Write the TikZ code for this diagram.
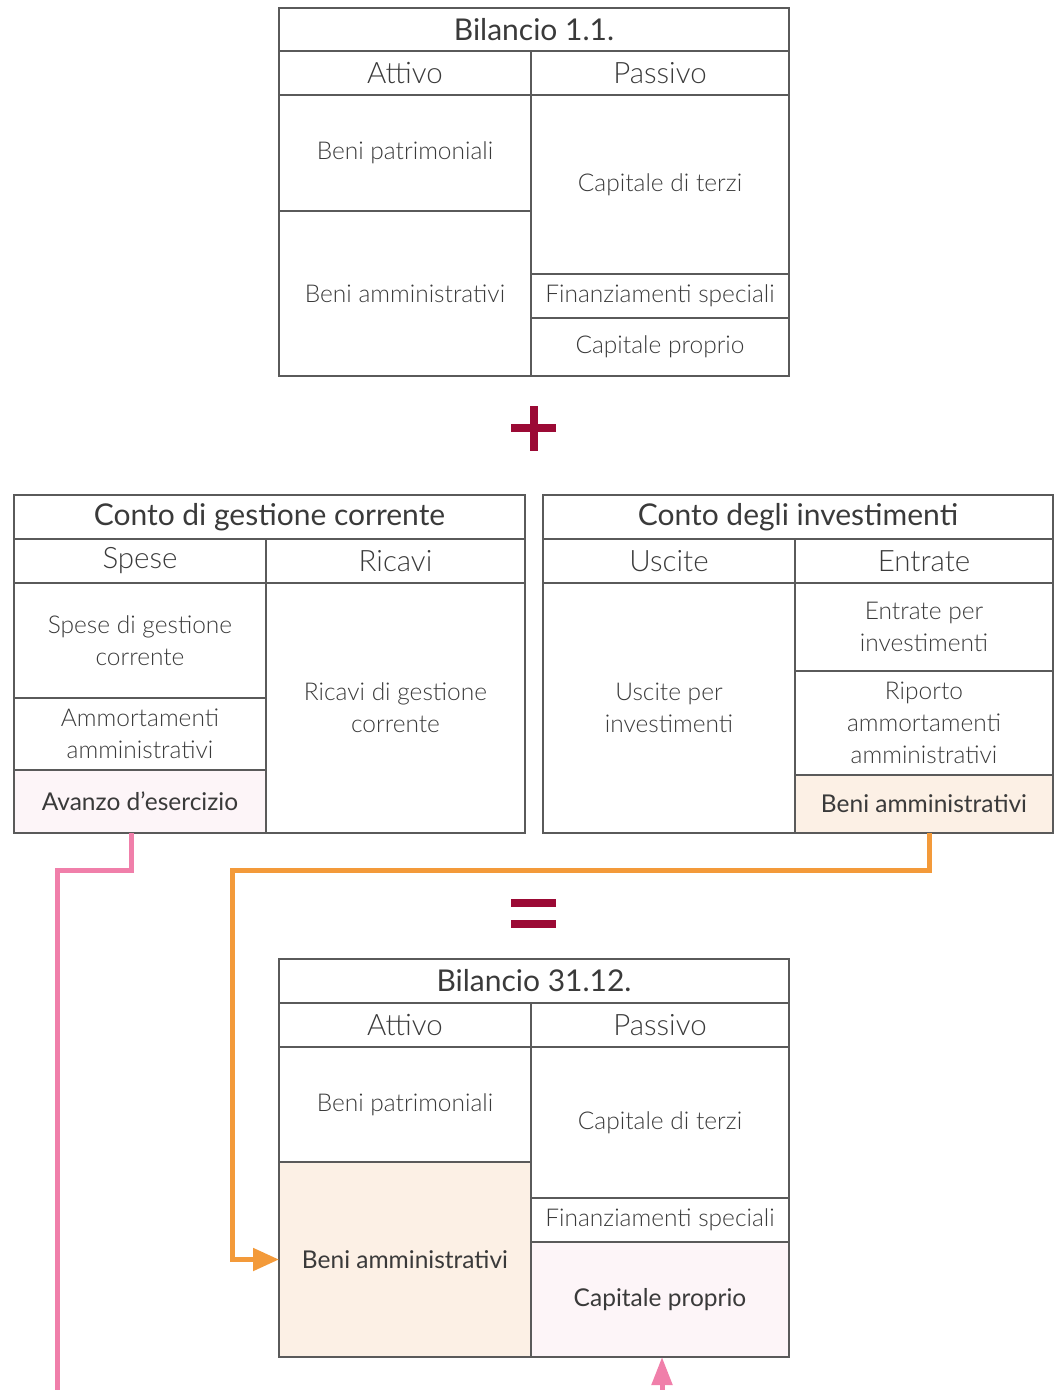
\documentclass[tikz,border=0pt]{standalone}
\usepackage{fontspec}
\setmainfont{Lato}
\newfontfamily\lightfont{Lato Light}
\usetikzlibrary{arrows.meta}
\definecolor{txt}{HTML}{3A3A3A}
\definecolor{frame}{HTML}{5A5A5A}
\definecolor{pinkfill}{HTML}{FDF5F8}
\definecolor{beigefill}{HTML}{FCF0E5}
\definecolor{pinkline}{HTML}{F07FAA}
\definecolor{orangeline}{HTML}{F39A3A}
\definecolor{crimson}{HTML}{9B0A35}
\tikzset{
  cell/.style={draw=frame, line width=1.5pt, inner sep=0pt, outer sep=0pt, align=center, text=txt},
  titletext/.style={font=\fontsize{30}{32}\selectfont},
  headtext/.style={font=\lightfont\fontsize{29.5}{32}\selectfont},
  bodytext/.style={font=\lightfont\fontsize{24.5}{32}\selectfont},
  hightext/.style={font=\fontsize{24.5}{32}\selectfont},
  pinkcell/.style={fill=pinkfill},
  beigecell/.style={fill=beigefill},
  conn/.style={line width=5pt},
}
% \mycell{name}{x1}{y1}{x2}{y2}{style}{text}
\newcommand\mycell[7]{%
  \pgfmathsetmacro\cw{#4-#2}%
  \pgfmathsetmacro\ch{#5-#3}%
  \pgfmathsetmacro\cx{(#2+#4)/2}%
  \pgfmathsetmacro\cy{-(#3+#5)/2}%
  \node[cell, minimum width=\cw pt, minimum height=\ch pt, #6] (#1) at (\cx pt,\cy pt) {#7};%
}
\begin{document}
\begin{tikzpicture}[x=1pt,y=1pt]
\useasboundingbox (0,0) rectangle (1058,-1390);
% ---- Bilancio 1.1.
\mycell{b1t}{279}{8}{789}{51}{titletext}{Bilancio 1.1.}
\mycell{b1a}{279}{51}{531}{95}{headtext}{Attivo}
\mycell{b1p}{531}{51}{789}{95}{headtext}{Passivo}
\mycell{b1bp}{279}{95}{531}{211}{bodytext}{Beni patrimoniali}
\mycell{b1ba}{279}{211}{531}{376}{bodytext}{Beni amministrativi}
\mycell{b1ct}{531}{95}{789}{274}{bodytext}{Capitale di terzi}
\mycell{b1fs}{531}{274}{789}{318}{bodytext}{Finanziamenti speciali}
\mycell{b1cp}{531}{318}{789}{376}{bodytext}{Capitale proprio}
% ---- plus
\fill[crimson] (511,-424) rectangle (556,-432);
\fill[crimson] (530,-406) rectangle (538,-451);
% ---- Conto di gestione corrente
\mycell{cgt}{14}{495}{525}{539}{titletext}{Conto di gestione corrente}
\mycell{cgs}{14}{539}{266}{583}{headtext}{Spese}
\mycell{cgr}{266}{539}{525}{583}{headtext}{Ricavi}
\mycell{cgsg}{14}{583}{266}{698}{bodytext}{Spese di gestione\\corrente}
\mycell{cgam}{14}{698}{266}{770}{bodytext}{Ammortamenti\\amministrativi}
\mycell{cgav}{14}{770}{266}{833}{hightext,pinkcell}{Avanzo d’esercizio}
\mycell{cgrg}{266}{583}{525}{833}{bodytext}{Ricavi di gestione\\corrente}
% ---- Conto degli investimenti
\mycell{cit}{543}{495}{1053}{539}{titletext}{Conto degli investimenti}
\mycell{ciu}{543}{539}{795}{583}{headtext}{Uscite}
\mycell{cie}{795}{539}{1053}{583}{headtext}{Entrate}
\mycell{ciui}{543}{583}{795}{833}{bodytext}{Uscite per\\investimenti}
\mycell{ciei}{795}{583}{1053}{671}{bodytext}{Entrate per\\investimenti}
\mycell{ciri}{795}{671}{1053}{775}{bodytext}{Riporto\\ammortamenti\\amministrativi}
\mycell{ciba}{795}{775}{1053}{833}{hightext,beigecell}{Beni amministrativi}
% ---- equals
\fill[crimson] (511,-899) rectangle (556,-907);
\fill[crimson] (511,-920) rectangle (556,-928);
% ---- Bilancio 31.12.
\mycell{b2t}{279}{959}{789}{1003}{titletext}{Bilancio 31.12.}
\mycell{b2a}{279}{1003}{531}{1047}{headtext}{Attivo}
\mycell{b2p}{531}{1003}{789}{1047}{headtext}{Passivo}
\mycell{b2bp}{279}{1047}{531}{1162}{bodytext}{Beni patrimoniali}
\mycell{b2ba}{279}{1162}{531}{1357}{hightext,beigecell}{Beni amministrativi}
\mycell{b2ct}{531}{1047}{789}{1198}{bodytext}{Capitale di terzi}
\mycell{b2fs}{531}{1198}{789}{1242}{bodytext}{Finanziamenti speciali}
\mycell{b2cp}{531}{1242}{789}{1357}{hightext,pinkcell}{Capitale proprio}
% ---- connectors
\coordinate (pinkend) at (57,-1392);
\coordinate (pinkstart) at (662,-1392);
\draw[conn, pinkline] ([xshift=-9pt]cgav.south) -- ++(0,-37) -| (pinkend);
\draw[conn, orangeline, -{Triangle[length=26pt,width=22pt]}] ([xshift=5pt]ciba.south) -- ++(0,-37) -| ([xshift=-47pt]b2ba.west) -- (b2ba.west);
\draw[conn, pinkline, -{Triangle[length=28pt,width=20pt]}] (pinkstart) -- ([xshift=2pt]b2cp.south);
\end{tikzpicture}
\end{document}
